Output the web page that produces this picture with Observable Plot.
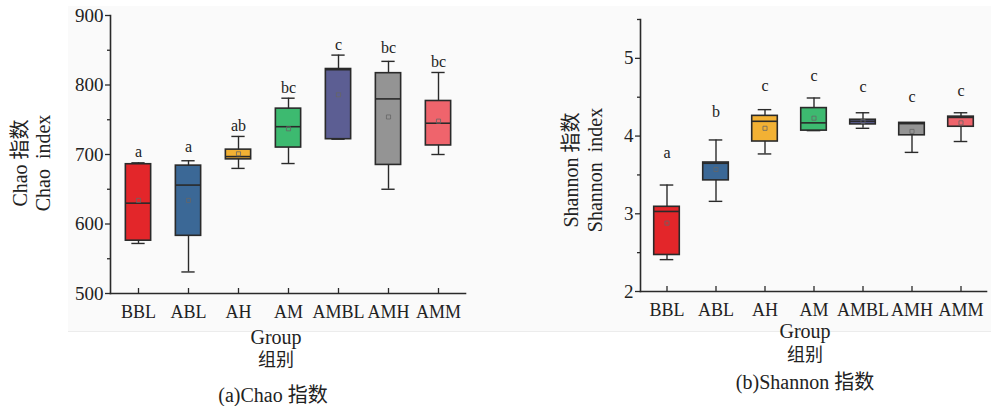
<!DOCTYPE html>
<html><head><meta charset="utf-8">
<script src="https://cdn.jsdelivr.net/npm/d3@7"></script>
<script src="https://cdn.jsdelivr.net/npm/@observablehq/plot@0.6"></script>
<style>
body{margin:0;background:#fff;width:991px;height:406px;position:relative;overflow:hidden;font-family:"Liberation Serif","Noto Sans CJK SC",serif;color:#222}
.bg{position:absolute;left:68px;top:6px;width:923px;height:325px;background:#fafafa;border-bottom:1px solid #ececec}
.p{position:absolute;top:0}
.t{position:absolute;font-size:20px;white-space:nowrap;transform:translate(-50%,-50%);line-height:1}
.r{transform:translate(-50%,-50%) rotate(-90deg)}
</style></head><body>
<div class="bg"></div>
<div id="a" class="p" style="left:0"></div>
<div id="b" class="p" style="left:540px"></div>
<div class="t r" style="left:20px;top:163px">Chao&nbsp;指数</div>
<div class="t r" style="left:43px;top:163px">Chao&nbsp;&nbsp;index</div>
<div class="t r" style="left:571px;top:170px">Shannon&nbsp;指数</div>
<div class="t r" style="left:595px;top:170px">Shannon&nbsp;&nbsp;index</div>
<div class="t" style="left:276px;top:337px">Group</div>
<div class="t" style="left:276px;top:360px;font-size:18px">组别</div>
<div class="t" style="left:805px;top:331px">Group</div>
<div class="t" style="left:805px;top:355px;font-size:18px">组别</div>
<div class="t" style="left:273px;top:395px">(a)Chao 指数</div>
<div class="t" style="left:805px;top:382px">(b)Shannon 指数</div>
<script>
const groups = ["BBL","ABL","AH","AM","AMBL","AMH","AMM"];
const colors = ["#e3262a","#3b6896","#f2b134","#3dba70","#5c5e93","#949494","#ef646c"];

const chaoMin  = [572,531,680,687,722,650,700];
const chaoQ1   = [576,583,693,710,722,685,713];
const chaoMed  = [630,656,697,740,822,780,745];
const chaoQ3   = [686,684,707,766,823,817,777];
const chaoMax  = [688,691,726,781,843,834,818];
const chaoMean = [634,634,701,737,786,754,748];
const chaoSig  = ["a","a","ab","bc","c","bc","bc"];
const chaoSigY = [704,711,741,796,858,853,833];
const chaoMajor = [500,600,700,800,900];
const chaoMinor = [550,650,750,850];

const shanMin  = [2.41,3.16,3.77,4.07,4.10,3.79,3.93];
const shanQ1   = [2.47,3.43,3.93,4.07,4.15,4.01,4.12];
const shanMed  = [3.03,3.65,4.19,4.17,4.19,4.16,4.24];
const shanQ3   = [3.09,3.66,4.26,4.36,4.21,4.17,4.25];
const shanMax  = [3.37,3.95,4.34,4.49,4.30,4.17,4.30];
const shanMean = [2.88,3.57,4.10,4.23,4.19,4.06,4.17];
const shanSig  = ["a","b","c","c","c","c","c"];
const shanSigY = [3.79,4.31,4.65,4.77,4.63,4.50,4.58];
const shanMajor = [2,3,4,5];
const shanMinor = [2.5,3.5,4.5,5.5];

function panel(el, d, cfg) {
  const rows = groups.map((g,i)=>({g, min:d.min[i], q1:d.q1[i], med:d.med[i], q3:d.q3[i], max:d.max[i], mean:d.mean[i], sig:d.sig[i], sigY:d.sigY[i]}));
  const bw = (cfg.width - cfg.marginLeft - cfg.marginRight) / groups.length;
  const boxInset = (bw - 26) / 2;
  const capInset = (bw - 14) / 2;
  const ink = "#2a2a2a";
  const plot = Plot.plot({
    width: cfg.width, height: 335,
    marginLeft: cfg.marginLeft, marginRight: cfg.marginRight,
    marginTop: cfg.marginTop, marginBottom: cfg.marginBottom,
    style: {background: "transparent", fontFamily: "Liberation Serif, serif", fontSize: "18px", color: "#222"},
    x: {domain: groups, padding: 0, label: null},
    y: {domain: cfg.domain, label: null},
    color: {domain: groups, range: colors},
    marks: [
      Plot.ruleX(rows, {x: "g", y1: "min", y2: "max", stroke: ink, strokeWidth: 1.4}),
      Plot.tickY(rows, {x: "g", y: "min", inset: capInset, stroke: ink, strokeWidth: 1.4}),
      Plot.tickY(rows, {x: "g", y: "max", inset: capInset, stroke: ink, strokeWidth: 1.4}),
      Plot.barY(rows, {x: "g", y1: "q1", y2: "q3", fill: "g", insetLeft: boxInset, insetRight: boxInset, stroke: ink, strokeWidth: 1.6}),
      Plot.tickY(rows, {x: "g", y: "med", inset: boxInset, stroke: ink, strokeWidth: 1.6}),
      Plot.dot(rows, {x: "g", y: "mean", symbol: "square", r: 2.3, stroke: "#666", strokeOpacity: 0.8, fill: "none", strokeWidth: 1}),
      Plot.text(rows, {x: "g", y: "sigY", text: "sig", fontSize: 16, fill: "#222"}),
      Plot.axisY({ticks: cfg.major, tickSize: 5, tickPadding: 2, tickFormat: v => String(v), fontSize: 19, stroke: ink, strokeWidth: 1.3}),
      Plot.axisY({ticks: cfg.minor, tickSize: 3, text: null, stroke: ink, strokeWidth: 1.3}),
      Plot.axisX({tickSize: 0, tickPadding: 12, fontSize: 18}),
      Plot.axisX({tickSize: 5, text: null, dy: -5, stroke: ink, strokeWidth: 1.3}),
      Plot.frame({anchor: "left", stroke: ink, strokeWidth: 1.6}),
      Plot.frame({anchor: "bottom", stroke: ink, strokeWidth: 1.6})
    ]
  });
  document.getElementById(el).appendChild(plot);
}

panel("a", {min: chaoMin, q1: chaoQ1, med: chaoMed, q3: chaoQ3, max: chaoMax, mean: chaoMean, sig: chaoSig, sigY: chaoSigY},
  {width: 540, marginLeft: 110, marginRight: 75, marginTop: 15, marginBottom: 42, domain: [500, 900], major: chaoMajor, minor: chaoMinor});
panel("b", {min: shanMin, q1: shanQ1, med: shanMed, q3: shanQ3, max: shanMax, mean: shanMean, sig: shanSig, sigY: shanSigY},
  {width: 451, marginLeft: 100, marginRight: 5, marginTop: 19, marginBottom: 44, domain: [2, 5.5], major: shanMajor, minor: shanMinor});
</script>
</body></html>
